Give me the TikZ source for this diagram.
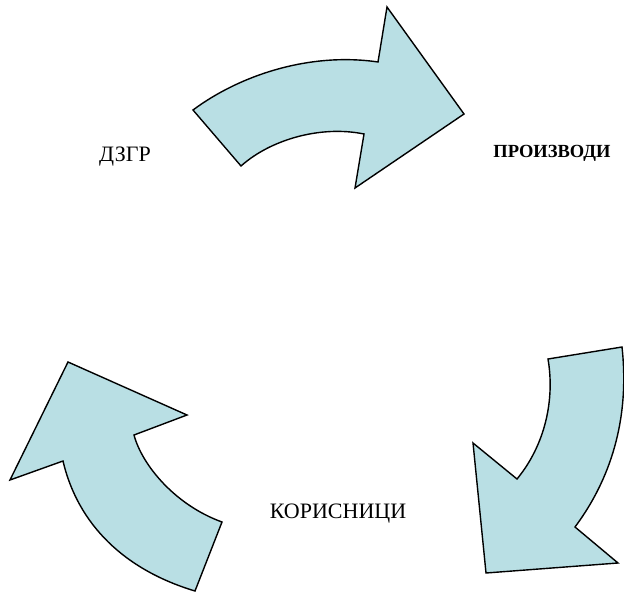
\documentclass[tikz,border=0pt]{standalone}
\usepackage{fontspec}
\setmainfont{Liberation Serif}
\definecolor{arrowblue}{RGB}{185,223,228}
\begin{document}
\begin{tikzpicture}[x=1pt,y=-1pt,
    bentarrow/.style={draw=black, fill=arrowblue, line width=1.4pt, line join=miter},
    caption/.style={font=\fontsize{22}{26}\selectfont, inner sep=0pt}]

  \useasboundingbox (0,0) rectangle (624,594);

  %% top arrow
  \draw[bentarrow] (193,110) .. controls (240,75) and (310,52) .. (378,62)
    -- (387,7) -- (464,114) -- (355,188) -- (364,134)
    .. controls (320,125) and (270,140) .. (241,166) -- cycle;

  %% right arrow
  \draw[bentarrow] (548,359) -- (622,347)
    .. controls (630,420) and (610,480) .. (575,527)
    -- (618,563) -- (486,573) -- (473,443) -- (517,479)
    .. controls (545,445) and (555,400) .. (548,359) -- cycle;

  %% left arrow
  \draw[bentarrow] (68,362) -- (187,415) -- (134,435)
    .. controls (142,465) and (175,505) .. (222,522)
    -- (195,591) .. controls (125,570) and (78,525) .. (63,461)
    -- (10,480) -- cycle;

  \node (Dzgr) at (125,157) [caption] {ДЗГР};
  \node (Proizvodi) at (552,153) [caption, font=\fontsize{18.5}{22}\selectfont\bfseries] {ПРОИЗВОДИ};
  \node (Korisnici) at (338,514) [caption] {КОРИСНИЦИ};

\end{tikzpicture}
\end{document}
